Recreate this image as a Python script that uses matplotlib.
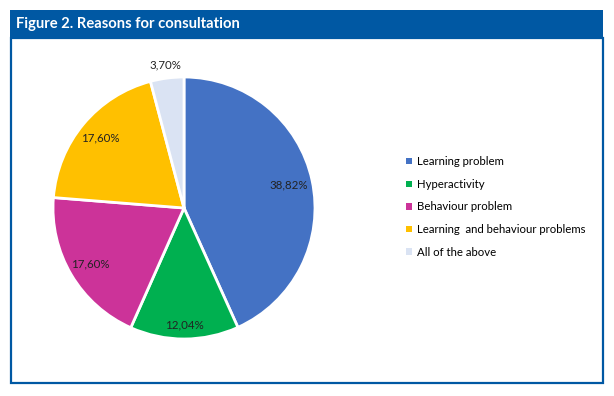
import matplotlib
matplotlib.use("Agg")

import numpy as np
import matplotlib.pyplot as plt
from matplotlib.patches import Rectangle, Patch

categories = ["Learning problem", "Hyperactivity", "Behaviour problem",
              "Learning  and behaviour problems", "All of the above"]
values = [38.82, 12.04, 17.60, 17.60, 3.70]
value_labels = ["38,82%", "12,04%", "17,60%", "17,60%", "3,70%"]

colors = ["#4472C4", "#00B050", "#CC3399", "#FFC000", "#DAE3F3"]
label_dist = [0.82, 0.89, 0.83, 0.83, 1.10]

plt.rcParams["font.family"] = ["Lato", "DejaVu Sans"]

W, H = 614, 396
fig = plt.figure(figsize=(W / 100, H / 100), dpi=100)

def fx(px):
    return px / W

def fy(py):
    return (H - py) / H

# header bar and frame
blue = "#0058A3"
fig.add_artist(Rectangle((fx(10), fy(38)), fx(603) - fx(10), fy(10) - fy(38),
                         transform=fig.transFigure, facecolor=blue, edgecolor=blue, lw=0))
fig.add_artist(Rectangle((fx(10.5), fy(383)), fx(602.5) - fx(10.5), fy(38) - fy(383),
                         transform=fig.transFigure, facecolor="none", edgecolor=blue, lw=1.6))
fig.text(fx(16), fy(24), "Figure 2. Reasons for consultation", color="white",
         fontsize=10.6, fontweight="bold", va="center", ha="left")

# pie
cx, cy, r = 184, 208, 131
ax = fig.add_axes([fx(cx - r), fy(cy + r), 2 * r / W, 2 * r / H])
wedges, _ = ax.pie(values, colors=colors, startangle=90, counterclock=False,
                   wedgeprops=dict(edgecolor="white", linewidth=2))
ax.set_xlim(-1, 1)
ax.set_ylim(-1, 1)
ax.set_aspect("equal")
ax.axis("off")

for w, lab, d in zip(wedges, value_labels, label_dist):
    ang = np.deg2rad((w.theta1 + w.theta2) / 2)
    ax.text(d * np.cos(ang), d * np.sin(ang), lab, ha="center", va="center",
            fontsize=8.3, color="#222222")

handles = [Patch(facecolor=c, edgecolor="none") for c in colors]
fig.legend(handles, categories, loc="center left", bbox_to_anchor=(fx(406), fy(207)),
           frameon=False, fontsize=8.2, handlelength=0.5, handleheight=0.5,
           handletextpad=0.45, labelspacing=1.02, borderpad=0, borderaxespad=0)

fig.savefig("out.png", dpi=100)
plt.close(fig)
